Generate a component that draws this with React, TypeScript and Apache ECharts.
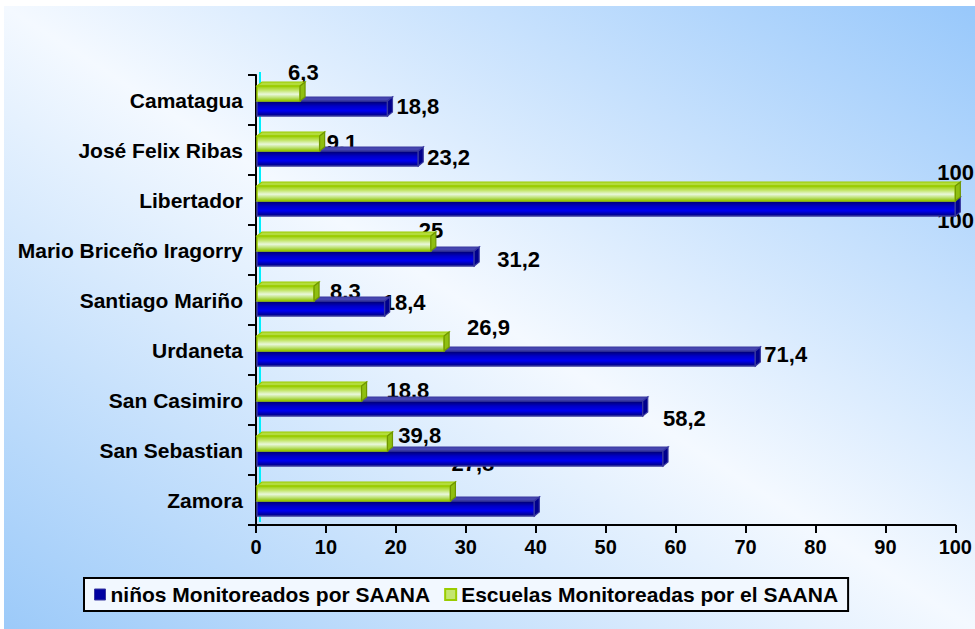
import React, { useEffect, useRef } from "react";
import * as echarts from "echarts";

const categories = [
  "Camatagua",
  "José Felix Ribas",
  "Libertador",
  "Mario Briceño Iragorry",
  "Santiago Mariño",
  "Urdaneta",
  "San Casimiro",
  "San Sebastian",
  "Zamora",
];

const ninosValues = [18.8, 23.2, 100, 31.2, 18.4, 71.4, 55.3, 58.2, 39.8];
const escuelasValues = [6.3, 9.1, 100, 25, 8.3, 26.9, 15.1, 18.8, 27.8];

const seriesNames = ["niños Monitoreados por SAANA", "Escuelas Monitoreadas por el SAANA"];
const xTicks = { min: 0, max: 100, interval: 10 };

// label placement (offset of text left / middle from bar end and category centre); null = hidden
const ninosLabelOffsets: ([number, number] | null)[] = [
  [9, 6], [9, 7], [-18, 20], [23, 9], [-2, 2], [9, 4], null, [0, -32], [-136, -65],
];
const escuelasLabelOffsets: ([number, number] | null)[] = [
  [-12, -28], [7, -8], [-18, -28], [-12, -20], [16, -9], [23, -23], null, [-1, -60], [1, -37],
];
const dotDecimal = { series: 1, index: 7 };

const FONT = "'Liberation Sans', Arial, sans-serif";
const DX = 5;
const DY = -4;

function makeRender(seriesIdx: number) {
  const offsets = seriesIdx === 0 ? ninosLabelOffsets : escuelasLabelOffsets;
  return (params: any, api: any) => {
    const v = api.value(0);
    const idx = api.value(1);
    const end = api.coord([v, idx]);
    const start = api.coord([0, idx]);
    const c = end[1];
    const x0 = start[0] + 1;
    const xe = end[0];
    const top = seriesIdx === 0 ? c + 1 : c - 14;
    const bottom = seriesIdx === 0 ? c + 16 : c + 1;
    const zb = seriesIdx === 0 ? 10 : 20;
    const isBlue = seriesIdx === 0;
    const frontFill = isBlue
      ? new echarts.graphic.LinearGradient(0, 0, 0, 1, [
          { offset: 0, color: "#00006a" },
          { offset: 0.35, color: "#0000c8" },
          { offset: 0.65, color: "#0000f2" },
          { offset: 1, color: "#00007a" },
        ])
      : new echarts.graphic.LinearGradient(0, 0, 0, 1, [
          { offset: 0, color: "#9acd00" },
          { offset: 0.3, color: "#c4e66e" },
          { offset: 0.55, color: "#eaf8dc" },
          { offset: 0.8, color: "#b8df68" },
          { offset: 1, color: "#8dbf00" },
        ]);
    const stroke = isBlue ? "#3838a0" : "#9acc00";
    const children: any[] = [];
    if (isBlue) {
      children.push({
        type: "line",
        shape: { x1: x0 + 3, y1: c - 25 - 3, x2: x0 + 3, y2: c + 25 - 3 },
        style: { stroke: "#00f0ff", lineWidth: 2 },
        z2: 1,
      });
    }
    const off = offsets[params.dataIndex];
    if (off) {
      let txt = String(v);
      if (!(seriesIdx === dotDecimal.series && params.dataIndex === dotDecimal.index)) {
        txt = txt.replace(".", ",");
      }
      children.push({
        type: "text",
        x: xe + off[0],
        y: c + off[1],
        style: {
          text: txt,
          fill: "#000",
          font: `bold 22px ${FONT}`,
          align: "left",
          verticalAlign: "middle",
        },
        z2: 2,
      });
    }
    children.push(
      {
        type: "polygon",
        shape: { points: [[x0, top], [x0 + DX, top + DY], [xe + DX, top + DY], [xe, top]] },
        style: { fill: isBlue ? "#4646b0" : "#b4dc3c", stroke, lineWidth: 1.2 },
        z2: zb,
      },
      {
        type: "rect",
        shape: { x: x0, y: top, width: xe - x0, height: bottom - top },
        style: { fill: frontFill, stroke, lineWidth: 1.5 },
        z2: zb + 1,
      },
      {
        type: "polygon",
        shape: { points: [[xe, top], [xe + DX, top + DY], [xe + DX, bottom + DY], [xe, bottom]] },
        style: { fill: isBlue ? "#00008c" : "#8fbf10", stroke: isBlue ? "#3838a0" : "#6f9600", lineWidth: 1.2 },
        z2: zb + 2,
      }
    );
    return { type: "group", children };
  };
}

export default function App() {
  const ref = useRef<HTMLDivElement>(null);
  useEffect(() => {
    if (!ref.current) return;
    const chart = echarts.init(ref.current, undefined, { renderer: "svg" });
    chart.setOption({
      animation: false,
      backgroundColor: "#ffffff",
      graphic: [
        {
          type: "rect",
          z: -10,
          silent: true,
          shape: { x: 4, y: 6, width: 971, height: 623 },
          style: {
            fill: new echarts.graphic.LinearGradient(0, 1, 1, 0, [
              { offset: 0, color: "#9ccaf9" },
              { offset: 0.5, color: "#f4f9ff" },
              { offset: 1, color: "#98c8fb" },
            ]),
          },
        },
      ],
      grid: { left: 256, right: 19, top: 75, bottom: 104, containLabel: false },
      legend: {
        left: 84,
        top: 578,
        orient: "horizontal",
        padding: [6, 10, 6, 10],
        itemGap: 14,
        itemWidth: 11,
        itemHeight: 11,
        borderColor: "#000",
        borderWidth: 2,
        backgroundColor: "#f2f8ff",
        textStyle: { fontFamily: FONT, fontWeight: "bold", fontSize: 21, color: "#000" },
        data: [
          { name: seriesNames[0], icon: "rect", itemStyle: { color: "#0000a0", borderColor: "#3838a0", borderWidth: 1 } },
          { name: seriesNames[1], icon: "rect", itemStyle: { color: "#c4e66e", borderColor: "#9acc00", borderWidth: 2 } },
        ],
      },
      xAxis: {
        type: "value",
        min: xTicks.min,
        max: xTicks.max,
        interval: xTicks.interval,
        axisLine: { show: true, lineStyle: { color: "#000", width: 2 } },
        axisTick: { show: true, length: 8, lineStyle: { color: "#000", width: 2 } },
        splitLine: { show: false },
        axisLabel: { fontFamily: FONT, fontWeight: "bold", fontSize: 20, color: "#000", margin: 12 },
      },
      yAxis: {
        type: "category",
        inverse: true,
        data: categories,
        axisLine: { show: true, lineStyle: { color: "#000", width: 2 } },
        axisTick: { show: true, length: 8, lineStyle: { color: "#000", width: 2 } },
        axisLabel: { fontFamily: FONT, fontWeight: "bold", fontSize: 21, color: "#000", margin: 13 },
      },
      series: [
        {
          name: seriesNames[0],
          type: "custom",
          itemStyle: { color: "#0000a0" },
          encode: { x: 0, y: 1 },
          data: ninosValues.map((v, i) => [v, i]),
          renderItem: makeRender(0),
          clip: false,
        },
        {
          name: seriesNames[1],
          type: "custom",
          itemStyle: { color: "#9acc00" },
          encode: { x: 0, y: 1 },
          data: escuelasValues.map((v, i) => [v, i]),
          renderItem: makeRender(1),
          clip: false,
        },
      ],
    });
    return () => chart.dispose();
  }, []);
  return (
    <div
      ref={ref}
      style={{ position: "fixed", left: 0, top: 0, width: 975, height: 629 }}
    />
  );
}
